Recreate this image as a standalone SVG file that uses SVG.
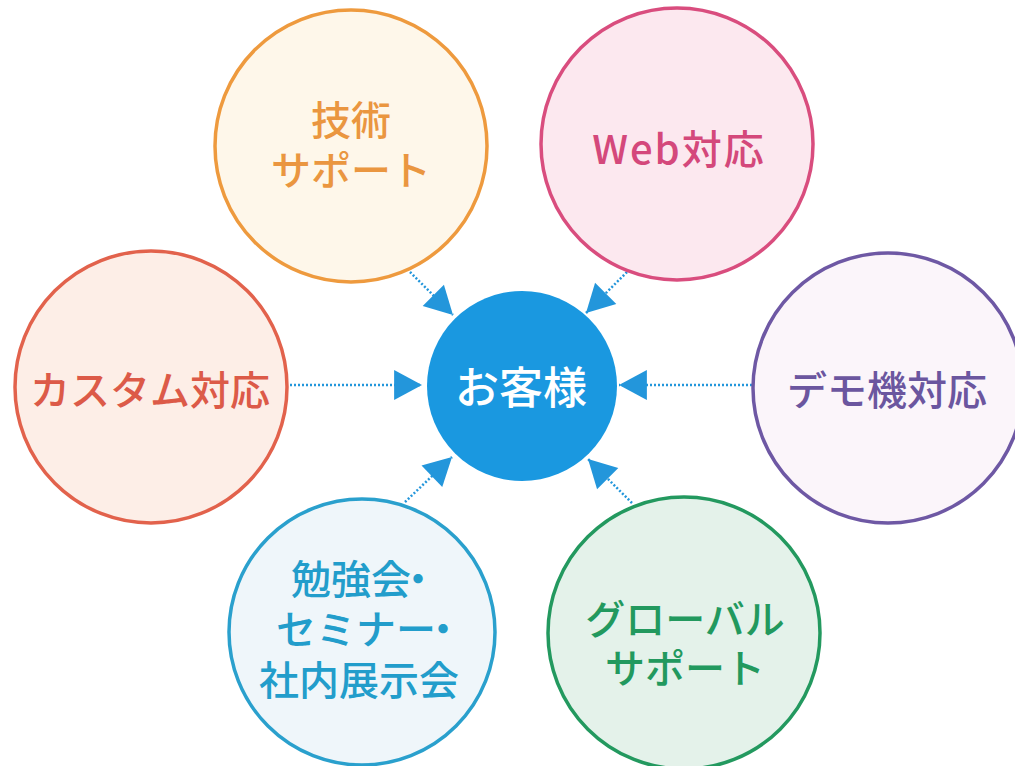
<svg xmlns="http://www.w3.org/2000/svg" width="1015" height="766" viewBox="0 0 1015 766">
  <defs>
    <marker id="ah" markerUnits="userSpaceOnUse" markerWidth="30" markerHeight="30" viewBox="0 0 26 28" refX="26" refY="14" orient="auto">
      <path d="M0,0 L26,14 L0,28 Z" fill="#2396DB"/>
    </marker>
    <style>
      .lbl { font-family: "Noto Sans CJK JP", "Noto Sans", sans-serif; font-size: 40px; font-weight: 500; text-anchor: middle; dominant-baseline: central; }
      .ring { stroke-width: 3.5; }
      .conn { stroke: #2396DB; stroke-width: 2.5; stroke-dasharray: 2 2; fill: none; }
    </style>
  </defs>
  <rect width="1015" height="766" fill="#FFFFFF"/>

  <g id="connectors">
    <line class="conn" x1="410" y1="272" x2="453" y2="315" marker-end="url(#ah)"/>
    <line class="conn" x1="627" y1="272" x2="586" y2="313" marker-end="url(#ah)"/>
    <line class="conn" x1="290" y1="385" x2="422" y2="385" marker-end="url(#ah)"/>
    <line class="conn" x1="752" y1="385" x2="619" y2="385" marker-end="url(#ah)"/>
    <line class="conn" x1="405" y1="502" x2="452" y2="457" marker-end="url(#ah)"/>
    <line class="conn" x1="632" y1="503" x2="588" y2="459" marker-end="url(#ah)"/>
  </g>

  <g id="node-gijutsu">
    <circle class="ring" cx="351" cy="146" r="136" fill="#FEF7EA" stroke="#EE9A3E"/>
    <text class="lbl" fill="#EA9640"><tspan x="351" y="118">技術</tspan><tspan x="351" y="168">サポート</tspan></text>
  </g>

  <g id="node-web">
    <circle class="ring" cx="677" cy="144" r="136" fill="#FCE8EF" stroke="#D94D7E"/>
    <text class="lbl" x="679" y="147" fill="#D4487B" letter-spacing="2">Web対応</text>
  </g>

  <g id="node-custom">
    <circle class="ring" cx="151" cy="387" r="136" fill="#FDEEE7" stroke="#E2624C"/>
    <text class="lbl" x="150" y="388" fill="#DC5A48">カスタム対応</text>
  </g>

  <g id="node-demo">
    <circle class="ring" cx="888" cy="388" r="135" fill="#FBF5FA" stroke="#6E58A4"/>
    <text class="lbl" x="887" y="388" fill="#6B569F">デモ機対応</text>
  </g>

  <g id="node-seminar">
    <circle class="ring" cx="362" cy="632" r="133" fill="#EFF6FA" stroke="#2AA0CD"/>
    <text class="lbl" fill="#229DCB" style="text-anchor:start"><tspan x="291" y="577">勉強会</tspan><tspan dx="-13">・</tspan><tspan x="276" y="627">セミナー</tspan><tspan dx="-13">・</tspan><tspan x="259" y="678">社内展示会</tspan></text>
  </g>

  <g id="node-global">
    <circle class="ring" cx="684" cy="633" r="136" fill="#E4F2EA" stroke="#23995F"/>
    <text class="lbl" fill="#22995E"><tspan x="685" y="617">グローバル</tspan><tspan x="685" y="666">サポート</tspan></text>
  </g>

  <g id="node-customer">
    <circle cx="522" cy="386" r="95" fill="#1A98E0"/>
    <text class="lbl" x="521" y="385" fill="#FFFFFF" style="font-size:44px">お客様</text>
  </g>
</svg>
